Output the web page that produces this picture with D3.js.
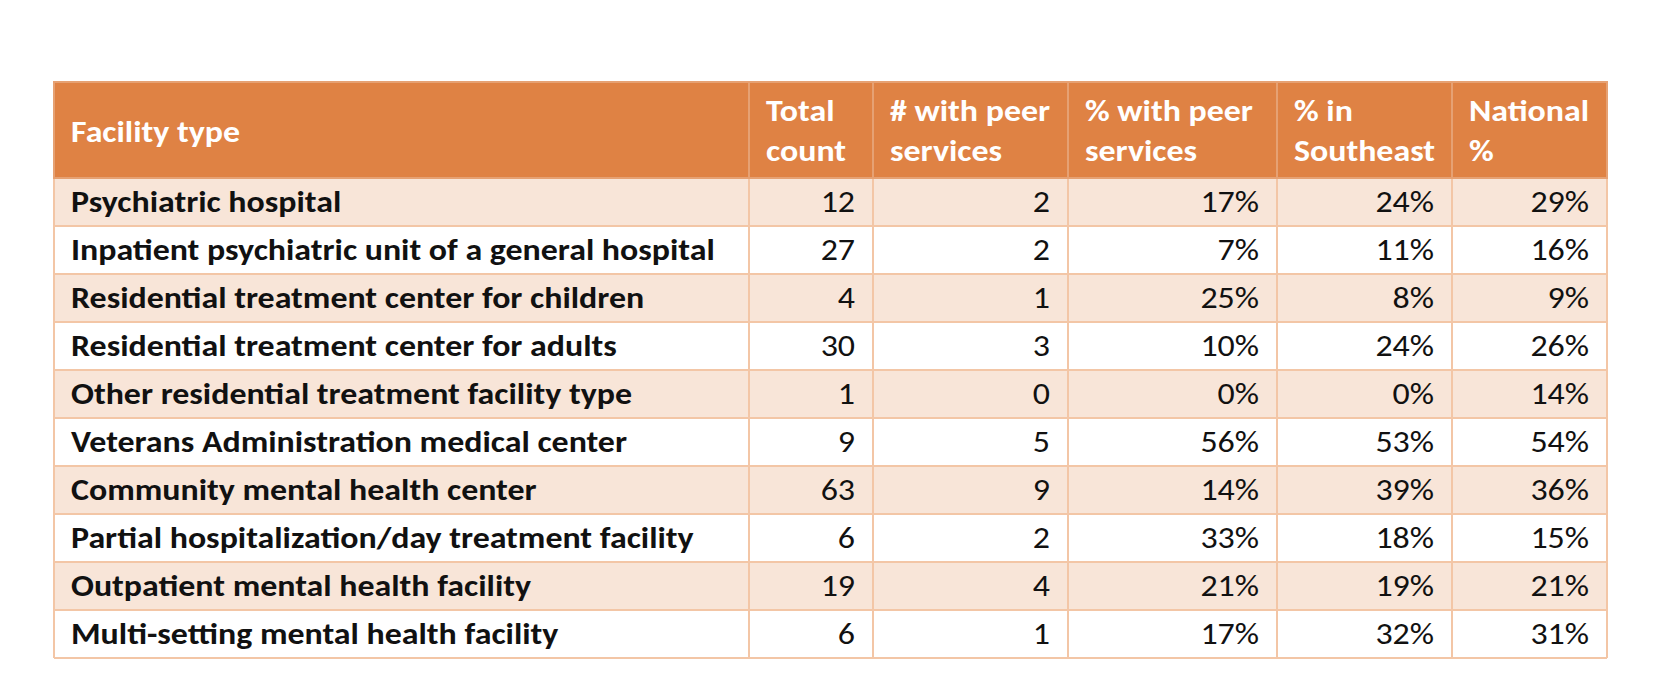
<!DOCTYPE html>
<html>
<head>
<meta charset="utf-8">
<script src="https://cdn.jsdelivr.net/npm/d3@7"></script>
<style>
  html, body { margin: 0; padding: 0; background: #ffffff; }
  svg { display: block; }
  text { font-family: Carlito, Lato, "Open Sans", sans-serif; font-size: 30px; }
</style>
</head>
<body>
<svg id="chart" width="1662" height="698"></svg>
<script>
// ---- data ----
const headers = [
  ["Facility type"],
  ["Total", "count"],
  ["# with peer", "services"],
  ["% with peer", "services"],
  ["% in", "Southeast"],
  ["National", "%"]
];
const facilityTypes = [
  "Psychiatric hospital",
  "Inpatient psychiatric unit of a general hospital",
  "Residential treatment center for children",
  "Residential treatment center for adults",
  "Other residential treatment facility type",
  "Veterans Administration medical center",
  "Community mental health center",
  "Partial hospitalization/day treatment facility",
  "Outpatient mental health facility",
  "Multi-setting mental health facility"
];
const totalCount   = [12, 27, 4, 30, 1, 9, 63, 6, 19, 6];
const withPeer     = [2, 2, 1, 3, 0, 5, 9, 2, 4, 1];
const pctWithPeer  = [17, 7, 25, 10, 0, 56, 14, 33, 21, 17];
const pctSoutheast = [24, 11, 8, 24, 0, 53, 39, 18, 19, 32];
const pctNational  = [29, 16, 9, 26, 14, 54, 36, 15, 21, 31];

// ---- layout ----
const colEdges = [54, 749, 873, 1068, 1277, 1452, 1607];
const headerTop = 82, headerBottom = 178, tableBottom = 658;
const pad = 17;
const colors = {
  header: "#DF8244",
  headerLine: "#E6A173",
  stripe: "#F8E5D8",
  border: "#F3C6A6",
  headText: "#ffffff",
  bodyText: "#111111"
};

const svg = d3.select("#chart");
const y = d3.scaleBand().domain(d3.range(facilityTypes.length))
  .range([headerBottom, tableBottom]).paddingInner(0).paddingOuter(0);
const x = d3.scaleOrdinal().domain(d3.range(headers.length)).range(colEdges.slice(0, -1));
const colW = i => colEdges[i + 1] - colEdges[i];

const fmtCount = d3.format("d");
const fmtPct = v => v + "%";
const columns = [
  facilityTypes,
  totalCount.map(fmtCount),
  withPeer.map(fmtCount),
  pctWithPeer.map(fmtPct),
  pctSoutheast.map(fmtPct),
  pctNational.map(fmtPct)
];

// header background
svg.append("rect")
  .attr("x", colEdges[0]).attr("y", headerTop)
  .attr("width", colEdges[colEdges.length - 1] - colEdges[0])
  .attr("height", headerBottom - headerTop)
  .attr("fill", colors.header);

// row backgrounds
svg.append("g").selectAll("rect")
  .data(d3.range(facilityTypes.length))
  .join("rect")
  .attr("x", colEdges[0]).attr("y", i => y(i))
  .attr("width", colEdges[colEdges.length - 1] - colEdges[0])
  .attr("height", y.bandwidth())
  .attr("fill", i => i % 2 === 0 ? colors.stripe : "#ffffff");

// grid lines
const grid = svg.append("g").attr("shape-rendering", "crispEdges");
// horizontal lines between body rows
grid.selectAll("line.h")
  .data(d3.range(facilityTypes.length + 1))
  .join("line").attr("class", "h")
  .attr("x1", colEdges[0]).attr("x2", colEdges[colEdges.length - 1])
  .attr("y1", i => i === facilityTypes.length ? tableBottom : y(i))
  .attr("y2", i => i === facilityTypes.length ? tableBottom : y(i))
  .attr("stroke", colors.border).attr("stroke-width", 2);
// vertical lines body
grid.selectAll("line.vb")
  .data(colEdges)
  .join("line").attr("class", "vb")
  .attr("x1", d => d).attr("x2", d => d)
  .attr("y1", headerBottom).attr("y2", tableBottom)
  .attr("stroke", colors.border).attr("stroke-width", 2);
// vertical lines header (inner)
grid.selectAll("line.vh")
  .data(colEdges.slice(1, -1))
  .join("line").attr("class", "vh")
  .attr("x1", d => d).attr("x2", d => d)
  .attr("y1", headerTop).attr("y2", headerBottom)
  .attr("stroke", colors.headerLine).attr("stroke-width", 1.5);
// header outer border
grid.append("rect")
  .attr("x", colEdges[0]).attr("y", headerTop)
  .attr("width", colEdges[colEdges.length - 1] - colEdges[0])
  .attr("height", headerBottom - headerTop)
  .attr("fill", "none").attr("stroke", colors.headerLine).attr("stroke-width", 1.5);

// texts
const texts = [];
// header text
headers.forEach((lines, c) => {
  const baselines = lines.length === 1 ? [142] : [121, 161];
  lines.forEach((t, li) => {
    texts.push({ t, x: x(c) + pad, y: baselines[li], anchor: "start", bold: true, fill: colors.headText });
  });
});
// body text
columns.forEach((vals, c) => {
  vals.forEach((v, r) => {
    const first = c === 0;
    texts.push({
      t: v,
      x: first ? x(c) + pad : x(c) + colW(c) - 18,
      y: y(r) + 34,
      anchor: first ? "start" : "end",
      bold: first,
      fill: colors.bodyText
    });
  });
});

const tsel = svg.append("g").selectAll("text")
  .data(texts).join("text")
  .attr("text-anchor", d => d.anchor)
  .attr("font-weight", d => d.bold ? 700 : 400)
  .attr("fill", d => d.fill)
  .text(d => d.t);

// horizontal compression to match reference font proportions
const ref = tsel.filter(d => d.t === facilityTypes[1]).node();
const w = ref.getComputedTextLength();
const k = 644 / w;
tsel.attr("transform", d => `translate(${d.x},${d.y}) scale(${k},1)`);
</script>
</body>
</html>
